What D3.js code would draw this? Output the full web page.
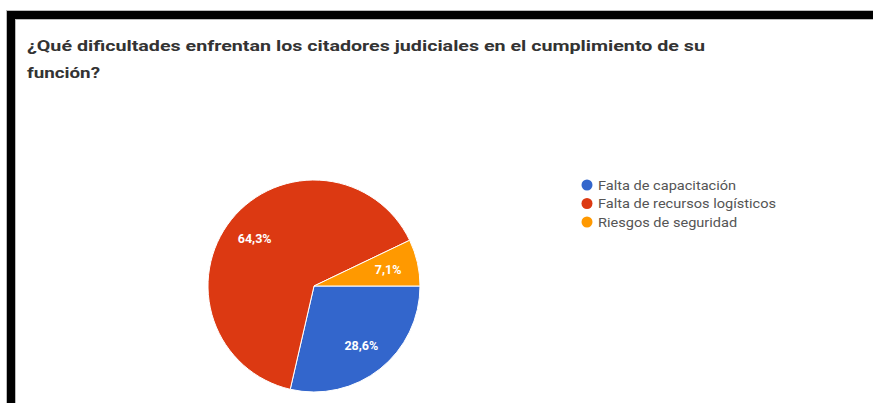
<!DOCTYPE html>
<html>
<head>
<meta charset="utf-8">
<script src="https://cdn.jsdelivr.net/npm/d3@7/dist/d3.min.js"></script>
<style>
  html, body { margin: 0; padding: 0; background: #fff; }
  svg { display: block; }
</style>
</head>
<body>
<svg id="chart" width="873" height="403"></svg>
<script>
const titleLines = ["¿Qué dificultades enfrentan los citadores judiciales en el cumplimiento de su", "función?"];
const categories = ["Falta de capacitación", "Falta de recursos logísticos", "Riesgos de seguridad"];
const values = [28.6, 64.3, 7.1];
const valueLabels = ["28,6%", "64,3%", "7,1%"];
const colors = ["#3366cc", "#dc3912", "#ff9900"];

const svg = d3.select("#chart");
svg.append("rect").attr("width", 873).attr("height", 403).attr("fill", "#fff");

// black frame (top and left)
svg.append("rect").attr("x", 6).attr("y", 10).attr("width", 867).attr("height", 10).attr("fill", "#bbb");
svg.append("rect").attr("x", 6).attr("y", 10).attr("width", 10).attr("height", 393).attr("fill", "#bbb");
svg.append("rect").attr("x", 7).attr("y", 11).attr("width", 866).attr("height", 8).attr("fill", "#000");
svg.append("rect").attr("x", 7).attr("y", 11).attr("width", 8).attr("height", 392).attr("fill", "#000");

// title
const title = svg.append("g");
title.append("text").attr("x", 27).attr("y", 51)
  .attr("font-family", "Roboto, Arial, sans-serif").attr("font-weight", "bold")
  .attr("font-size", 14).attr("fill", "#333")
  .attr("textLength", 678).attr("lengthAdjust", "spacingAndGlyphs")
  .text(titleLines[0]);
title.append("text").attr("x", 27).attr("y", 78)
  .attr("font-family", "Roboto, Arial, sans-serif").attr("font-weight", "bold")
  .attr("font-size", 14).attr("fill", "#333")
  .attr("textLength", 73).attr("lengthAdjust", "spacingAndGlyphs")
  .text(titleLines[1]);

// pie
const cx = 314, cy = 286, r = 106;
const pie = d3.pie().sort(null).value(d => d)
  .startAngle(Math.PI / 2).endAngle(Math.PI / 2 + 2 * Math.PI);
const arcs = pie(values);
const arc = d3.arc().innerRadius(0).outerRadius(r);
const labelArc = d3.arc().innerRadius(76).outerRadius(76);

const g = svg.append("g").attr("transform", `translate(${cx},${cy})`);
g.selectAll("path").data(arcs).join("path")
  .attr("d", arc)
  .attr("fill", (d, i) => colors[i])
  .attr("stroke", "#fff").attr("stroke-width", 1);

g.selectAll("text").data(arcs).join("text")
  .attr("transform", d => `translate(${labelArc.centroid(d)})`)
  .attr("text-anchor", "middle").attr("dy", "0.35em")
  .attr("font-family", "Roboto, Arial, sans-serif")
  .attr("font-size", 12.5).attr("font-weight", "bold")
  .attr("fill", "#fff")
  .text((d, i) => valueLabels[i]);

// legend
const legend = svg.append("g").attr("transform", "translate(587,185)");
const rows = legend.selectAll("g").data(categories).join("g")
  .attr("transform", (d, i) => `translate(0,${i * 18.5})`);
rows.append("circle").attr("r", 5.5).attr("fill", (d, i) => colors[i]);
rows.append("text").attr("x", 11).attr("dy", "0.35em")
  .attr("font-family", "Roboto, Arial, sans-serif").attr("font-size", 13)
  .attr("fill", "#555")
  .each(function(d) {
    const t = d3.select(this).text(d);
    const w = this.getComputedTextLength();
    t.attr("textLength", w * 1.12).attr("lengthAdjust", "spacingAndGlyphs");
  });
</script>
</body>
</html>
